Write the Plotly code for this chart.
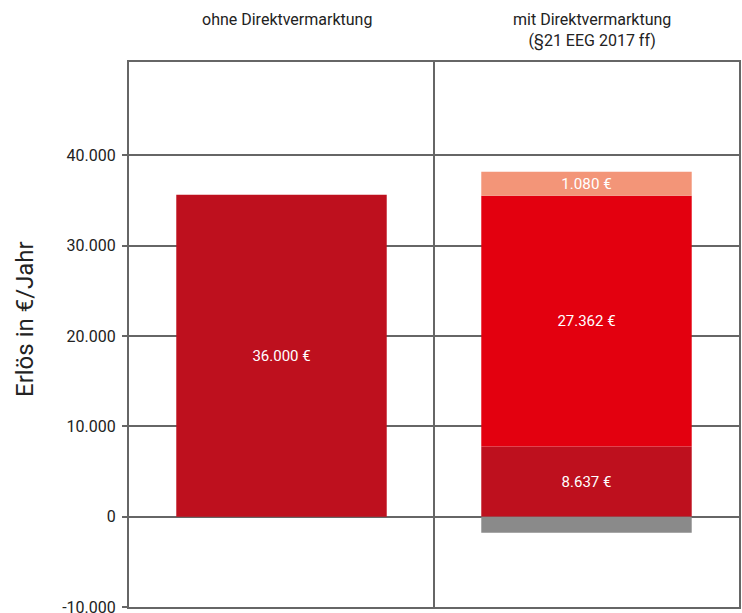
import plotly.graph_objects as go

categories = ["ohne Direktvermarktung", "mit Direktvermarktung<br>(§21 EEG 2017 ff)"]
x_pos = [0, 1]

# drawn bar heights and their labels
base_values = [35650, 7760]
base_labels = ["36.000 €", "8.637 €"]
market_values = [27780]
market_labels = ["27.362 €"]
bonus_values = [2660]
bonus_labels = ["1.080 €"]
cost_values = [-1770]

tick_vals = [-10000, 0, 10000, 20000, 30000, 40000]
tick_text = ["-10.000", "0", "10.000", "20.000", "30.000", "40.000"]
y_title = "Erlös in €/Jahr"

font_family = "Roboto, sans-serif"
bar_w = 0.69

fig = go.Figure()
fig.add_trace(go.Bar(x=x_pos, y=base_values, text=base_labels, marker_color="#BE101E",
                     marker_line_width=0, width=bar_w, textposition="inside",
                     insidetextanchor="middle",
                     textfont=dict(color="white", size=15, family=font_family)))
fig.add_trace(go.Bar(x=[1], y=market_values, text=market_labels, marker_color="#E3000F",
                     marker_line_width=0, width=bar_w, textposition="inside",
                     insidetextanchor="middle",
                     textfont=dict(color="white", size=15, family=font_family)))
fig.add_trace(go.Bar(x=[1], y=bonus_values, text=bonus_labels, marker_color="#F39578",
                     marker_line_width=0, width=bar_w, textposition="inside",
                     insidetextanchor="middle",
                     textfont=dict(color="white", size=16, family=font_family)))
fig.add_trace(go.Bar(x=[1], y=cost_values, marker_color="#8A8A8A",
                     marker_line_width=0, width=bar_w))

for xp, cat in zip(x_pos, categories):
    fig.add_annotation(x=xp, y=1, xref="x", yref="paper", yshift=54, xshift=5, text=cat,
                       showarrow=False, yanchor="top",
                       font=dict(size=16, color="#222222", family=font_family))

fig.add_annotation(x=0, y=(607 - 319) / 545, xref="paper", yref="paper", xshift=-104,
                   text=y_title, textangle=-90, showarrow=False,
                   xanchor="center", yanchor="middle",
                   font=dict(size=24, color="#222222", family=font_family))

fig.update_layout(
    width=742, height=613,
    margin=dict(l=129, r=3, t=62, b=6, autoexpand=False),
    barmode="relative",
    showlegend=False,
    plot_bgcolor="white", paper_bgcolor="white",
    font=dict(family=font_family, color="#222222"),
)
fig.update_xaxes(range=[-0.5, 1.5], tickvals=[0.5], showticklabels=False, showgrid=True,
                 gridcolor="#666666", gridwidth=2, showline=True, linecolor="#666666",
                 linewidth=2, mirror=True, zeroline=False, ticks="", automargin=False)
fig.update_yaxes(range=[-10000, 50350], tickvals=tick_vals, ticktext=tick_text,
                 showgrid=True, gridcolor="#666666", gridwidth=2, showline=True,
                 linecolor="#666666", linewidth=2, mirror=True, zeroline=False,
                 ticks="outside", ticklen=5, tickcolor="#666666", tickwidth=2,
                 ticklabelstandoff=3, ticklabeloverflow="allow", automargin=False,
                 tickfont=dict(size=16, color="#222222", family=font_family))

fig.write_html("out.html", config={"displayModeBar": False},
               post_script="document.body.style.margin='0';")
